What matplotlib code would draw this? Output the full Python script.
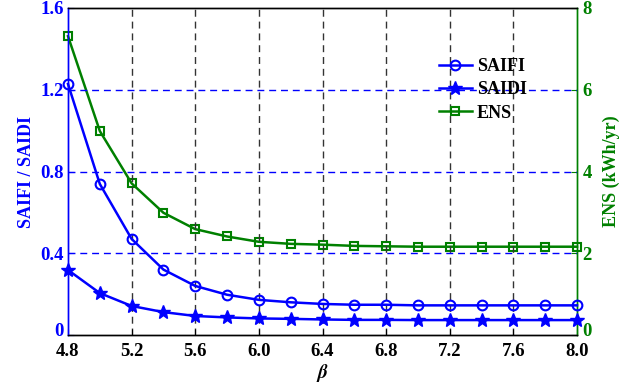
import matplotlib
matplotlib.use("Agg")
import matplotlib.pyplot as plt
import matplotlib.transforms as mtransforms
import numpy as np

beta = [4.8, 5.0, 5.2, 5.4, 5.6, 5.8, 6.0, 6.2, 6.4, 6.6, 6.8, 7.0, 7.2, 7.4, 7.6, 7.8, 8.0]
saifi = [1.228, 0.739, 0.470, 0.320, 0.240, 0.197, 0.172, 0.160, 0.152, 0.148, 0.148, 0.145, 0.145, 0.145, 0.145, 0.145, 0.145]
saidi = [0.318, 0.205, 0.142, 0.112, 0.093, 0.086, 0.081, 0.079, 0.076, 0.074, 0.074, 0.073, 0.073, 0.073, 0.073, 0.073, 0.073]
ens = [7.31, 4.99, 3.71, 2.99, 2.59, 2.41, 2.28, 2.23, 2.21, 2.18, 2.17, 2.16, 2.16, 2.16, 2.16, 2.16, 2.16]

xticks = [4.8, 5.2, 5.6, 6.0, 6.4, 6.8, 7.2, 7.6, 8.0]
left_ticks = [0, 0.4, 0.8, 1.2, 1.6]
left_ticklabels = ["0", "0.4", "0.8", "1.2", "1.6"]
right_ticks = [0, 2, 4, 6, 8]

plt.rcParams['font.family'] = ['Liberation Serif', 'DejaVu Serif']
plt.rcParams['font.weight'] = 'bold'
plt.rcParams['mathtext.fontset'] = 'stix'

BLUE = '#0000ff'
GREEN = '#008000'
FS = 13.5

fig = plt.figure(figsize=(6.43, 3.84), dpi=100)
ax = fig.add_axes([68/643, 1-335/384, (577-68)/643, (335-8)/384])
ax2 = ax.twinx()

ax.set_xlim(4.8, 8.0)
ax.set_ylim(0, 1.6)
ax2.set_ylim(0, 8)

# grids
for xv in xticks[1:-1]:
    ax.axvline(xv, color='#333333', lw=1.0, ls=(0, (5, 3.5)), zorder=0)
for yv in left_ticks[1:-1]:
    ax.axhline(yv, color=BLUE, lw=1.0, ls=(0, (5, 3.5)), zorder=0)

l1, = ax.plot(beta, saifi, color=BLUE, lw=1.8, marker='o', ms=7, mfc='none', mec=BLUE, mew=1.5, label='SAIFI', clip_on=False, zorder=3)
l2, = ax.plot(beta, saidi, color=BLUE, lw=1.8, marker='*', ms=10, mfc=BLUE, mec=BLUE, label='SAIDI', clip_on=False, zorder=3)
l3, = ax2.plot(beta, ens, color=GREEN, lw=1.8, marker='s', ms=5.5, mfc='none', mec=GREEN, mew=1.5, label='ENS', clip_on=False, zorder=3)

ax.set_xticks(xticks)
ax.set_xticklabels([f"{v:.1f}" for v in xticks], fontsize=FS, fontweight='bold')
ax.set_yticks(left_ticks)
ax.set_yticklabels(left_ticklabels, fontsize=FS, fontweight='bold', color=BLUE)
ax2.set_yticks(right_ticks)
ax2.set_yticklabels([str(v) for v in right_ticks], fontsize=FS, fontweight='bold', color=GREEN)

ax.tick_params(axis='x', direction='in', length=4, pad=6, colors='black')
ax.tick_params(axis='y', direction='in', length=4, pad=3, colors=BLUE)
ax2.tick_params(axis='y', direction='in', length=4, pad=4, colors=GREEN)

for lab in ax.get_yticklabels() + ax2.get_yticklabels():
    lab.set_verticalalignment('center_baseline')
# lift the two "0" labels a little so they clear the x tick labels
shift = mtransforms.ScaledTranslation(0, 4/72, fig.dpi_scale_trans)
for lab in [ax.get_yticklabels()[0], ax2.get_yticklabels()[0]]:
    lab.set_transform(lab.get_transform() + shift)

ax.set_xlabel(r'$\beta$', fontsize=14, labelpad=1)
ax.set_ylabel('SAIFI / SAIDI', fontsize=13, fontweight='bold', color=BLUE, labelpad=4)
ax2.set_ylabel('ENS (kWh/yr)', fontsize=13, fontweight='bold', color=GREEN, labelpad=8)

for a in (ax, ax2):
    a.spines['left'].set_color(BLUE)
    a.spines['right'].set_color(GREEN)
    a.spines['top'].set_color('black')
    a.spines['bottom'].set_color('black')
    for s in a.spines.values():
        s.set_linewidth(1.0)
ax.set_zorder(ax2.get_zorder() + 1)
ax.patch.set_visible(False)

leg = ax.legend(handles=[l1, l2, l3], loc='upper left', bbox_to_anchor=(0.697, 0.897),
                frameon=False, handlelength=1.8, handletextpad=0.3,
                labelspacing=0.35, prop={'weight': 'bold', 'size': 13})

fig.savefig('out.png', dpi=100)
